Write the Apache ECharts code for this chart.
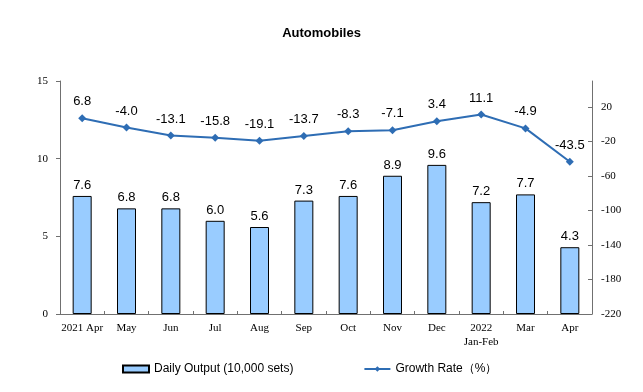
<!DOCTYPE html>
<html><head><meta charset="utf-8">
<script src="https://cdn.jsdelivr.net/npm/echarts@6/dist/echarts.min.js"></script>
<style>html,body{margin:0;padding:0;background:#fff}#c{width:643px;height:392px}</style>
</head><body><div id="c"></div>
<script>
const categories = ["2021 Apr","May","Jun","Jul","Aug","Sep","Oct","Nov","Dec","2022\nJan-Feb","Mar","Apr"];
const dailyOutput = [7.6,6.8,6.8,6.0,5.6,7.3,7.6,8.9,9.6,7.2,7.7,4.3];
const growthRate = [6.8,-4.0,-13.1,-15.8,-19.1,-13.7,-8.3,-7.1,3.4,11.1,-4.9,-43.5];
const leftTicks = [0,5,10,15];
const rightTicks = [-220,-180,-140,-100,-60,-20,20];

const chart = echarts.init(document.getElementById('c'), null, {renderer:'canvas'});
const axisFont = {fontFamily:'Liberation Serif', fontSize:11, color:'#000'};
chart.setOption({
  animation:false,
  backgroundColor:'#fff',
  title:{text:'Automobiles', left:'center', top:22,
    textStyle:{fontFamily:'Liberation Sans', fontSize:13, fontWeight:'bold', color:'#000'}},
  grid:{left:60, right:51, top:81, bottom:78, containLabel:false},
  legend:{left:117, top:358, itemGap:70, itemWidth:26, itemHeight:7,
    textStyle:{fontFamily:'Liberation Sans', fontSize:12, color:'#000'},
    data:[{name:'Daily Output (10,000 sets)', icon:'rect'},{name:'Growth Rate（%）'}]},
  xAxis:{type:'category', data:categories,
    axisLine:{lineStyle:{color:'#707070'}},
    axisTick:{show:true, inside:true, length:3, lineStyle:{color:'#707070'}},
    axisLabel:Object.assign({margin:7, interval:0, lineHeight:14}, axisFont)},
  yAxis:[
    {type:'value', min:leftTicks[0], max:leftTicks[leftTicks.length-1], interval:5,
      splitLine:{show:false},
      axisLine:{show:true, lineStyle:{color:'#707070'}},
      axisTick:{show:true, length:4, lineStyle:{color:'#707070'}},
      axisLabel:Object.assign({margin:12}, axisFont)},
    {type:'value', min:rightTicks[0], max:50, interval:40,
      splitLine:{show:false},
      axisLine:{show:true, lineStyle:{color:'#707070'}},
      axisTick:{show:true, inside:true, length:4, lineStyle:{color:'#707070'}},
      axisLabel:Object.assign({margin:9, showMaxLabel:false}, axisFont)}
  ],
  series:[
    {name:'Daily Output (10,000 sets)', type:'bar', data:dailyOutput, barWidth:19,
      itemStyle:{color:'#99CCFF', borderColor:'#000', borderWidth:1},
      label:{show:true, position:'top', distance:4, formatter:p=>p.value.toFixed(1),
        fontFamily:'Liberation Sans', fontSize:13, color:'#000'}},
    {name:'Growth Rate（%）', type:'line', yAxisIndex:1, data:growthRate,
      symbol:'diamond', symbolSize:8,
      lineStyle:{color:'#2E6DB4', width:2},
      itemStyle:{color:'#2E6DB4'},
      label:{show:true, position:'top', distance:6, formatter:p=>p.value.toFixed(1),
        fontFamily:'Liberation Sans', fontSize:13, color:'#000'}}
  ]
});
</script></body></html>
